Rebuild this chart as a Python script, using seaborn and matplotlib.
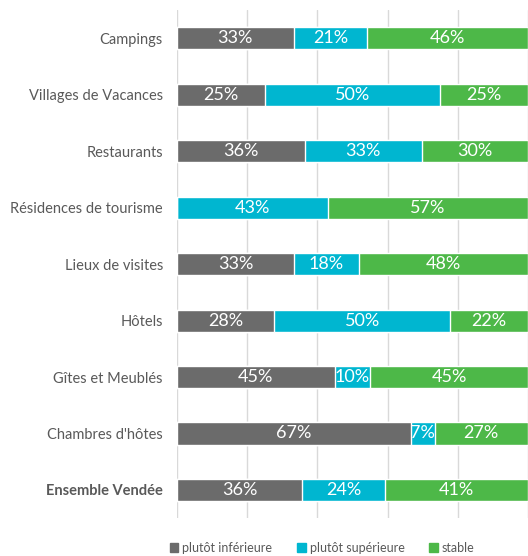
import numpy as np
import pandas as pd
import matplotlib.pyplot as plt
import seaborn as sns

categories = ["Campings", "Villages de Vacances", "Restaurants", "Résidences de tourisme",
              "Lieux de visites", "Hôtels", "Gîtes et Meublés", "Chambres d'hôtes",
              "Ensemble Vendée"]
inferieure = [33.3, 25.0, 36.4, 0.0, 33.4, 27.8, 45.0, 66.7, 35.6]
superieure = [20.8, 50.0, 33.3, 42.9, 18.4, 50.0, 10.0, 6.7, 23.7]
stable = [45.9, 25.0, 30.3, 57.1, 48.2, 22.2, 45.0, 26.6, 40.7]
series_names = ["plutôt inférieure", "plutôt supérieure", "stable"]
colors = ["#6b6b6b", "#00b6d0", "#4db848"]

df = pd.DataFrame({"cat": categories, "inf": inferieure, "sup": superieure, "stab": stable})
df["c1"] = df["inf"]
df["c2"] = df["inf"] + df["sup"]
df["c3"] = df["c2"] + df["stab"]

sns.set_style("white")
plt.rcParams["font.family"] = ["Lato", "DejaVu Sans"]

fig = plt.figure(figsize=(5.28, 5.56), dpi=100)
ax = fig.add_axes([0.335, 0.068, 0.665, 0.914])

# stacked look: draw cumulative totals from the back to the front
for col, c in zip(["c3", "c2", "c1"], colors[::-1]):
    sns.barplot(data=df, x=col, y="cat", color=c, width=0.39, saturation=1,
                orient="h", ax=ax, zorder=2)

for i, row in df.iterrows():
    starts = [0, row["c1"], row["c2"]]
    for s, v in zip(starts, [row["inf"], row["sup"], row["stab"]]):
        if v > 0:
            ax.text(s + v / 2, i, f"{v:.0f}%", ha="center", va="center",
                    color="white", fontsize=13, zorder=3)

ax.set_xlim(0, 100)
ax.set_ylim(8.5, -0.5)
ax.set_xticks(np.arange(0, 101, 20))
ax.set_xticklabels([])
ax.grid(axis="x", color="#d9d9d9", linewidth=1, zorder=0)
ax.set_axisbelow(True)
for s in ax.spines.values():
    s.set_visible(False)
ax.set_xlabel("")
ax.set_ylabel("")
ax.tick_params(axis="y", length=0, pad=10, labelsize=10.5, labelcolor="#595959")
ax.tick_params(axis="x", length=0)
ax.get_yticklabels()[-1].set_fontweight("bold")

handles = [plt.Rectangle((0, 0), 1, 1, color=c) for c in colors]
fig.legend(handles, series_names, loc="center", bbox_to_anchor=(0.61, 1 - 548 / 556),
           ncol=3, frameon=False, fontsize=9, handlelength=0.7, handleheight=0.7,
           handletextpad=0.3, columnspacing=2.0, labelcolor="#595959")

fig.savefig("out.png", dpi=100)
